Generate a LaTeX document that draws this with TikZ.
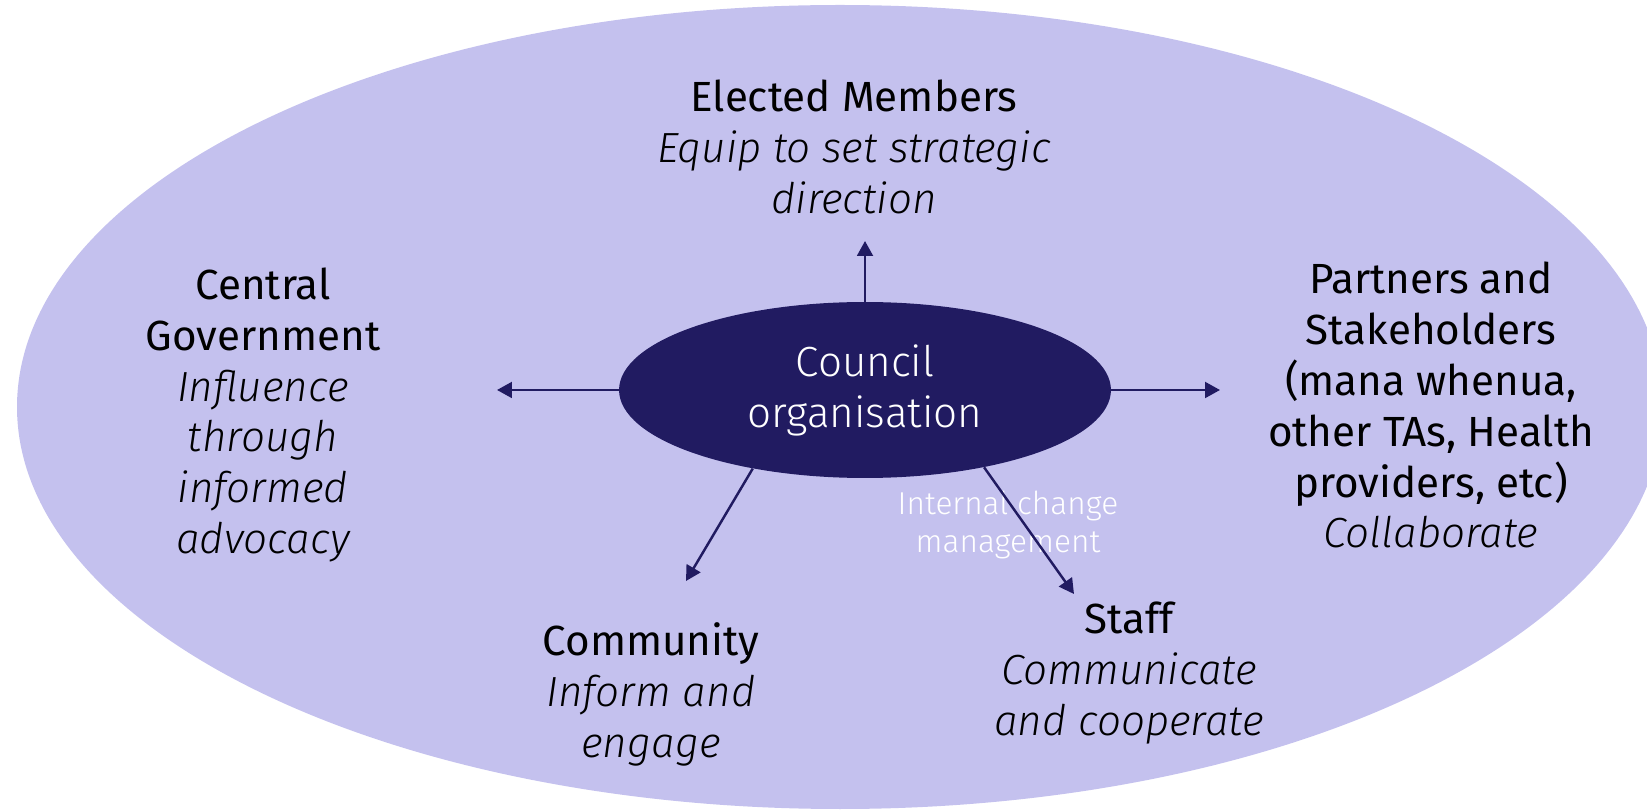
\documentclass[tikz,border=0pt]{standalone}
\usepackage{fontspec}
\setmainfont{Fira Sans}
\newfontfamily\lightfont{Fira Sans Light}
\usepackage{tikz}
\usetikzlibrary{shapes.geometric}
\usetikzlibrary{arrows.meta}
\definecolor{ColBack}{RGB}{196,193,238}
\definecolor{ColCore}{RGB}{33,27,97}
\tikzstyle{CoreNode}=[ellipse,fill=ColCore,text=white,minimum width=9.84cm,minimum height=3.52cm,
inner sep=0pt,align=center,font=\lightfont\fontsize{24}{29}\selectfont]
\tikzstyle{GroupNode}=[align=center,text=black,inner sep=0pt,font=\fontsize{24}{29}\selectfont]
\tikzstyle{NoteNode}=[align=center,text=white,inner sep=0pt,font=\lightfont\fontsize{18}{21.6}\selectfont]
\tikzstyle{EdgeArrow}=[ColCore,line width=1.4pt,-{Triangle[length=8.5pt,width=9pt]}]
\newcommand{\task}{\lightfont\itshape}

\begin{document}
\begin{tikzpicture}[x=0.02cm,y=-0.02cm]
        \useasboundingbox(0,0)rectangle(1647,810);
        \clip(0,0)rectangle(1647,810);
        \fill[ColBack](840,407)ellipse[x radius=823,y radius=402];
        \node[CoreNode](council)at(865,390){Council\\organisation};
        \node[GroupNode](em)at(854,147){Elected Members\\\task Equip to set strategic\\\task direction};
        \node[GroupNode](cg)at(263,415){Central\\Government\\\task Influence\\\task through\\\task informed\\\task advocacy};
        \node[GroupNode](ps)at(1431,405){Partners and\\Stakeholders\\(mana whenua,\\other TAs, Health\\providers, etc)\\\task Collaborate};
        \node[GroupNode](cm)at(651,694){Community\\\task Inform and\\\task engage};
        \node[GroupNode](st)at(1129,673){Staff\\\task Communicate\\\task and cooperate};
        \node[NoteNode](icm)at(1008,525){Internal change\\management};
        \coordinate(emTip)at(865,241);
        \coordinate(cgTip)at(497,390);
        \coordinate(psTip)at(1220,390);
        \coordinate(cmTip)at(686,581);
        \coordinate(stTip)at(1074,594);
        \draw[EdgeArrow](council.north)--(emTip);
        \draw[EdgeArrow](council.west)--(cgTip);
        \draw[EdgeArrow](council.east)--(psTip);
        \draw[EdgeArrow](council.215)--(cmTip);
        \draw[EdgeArrow](council.327)--(stTip);
    \end{tikzpicture}
\end{document}
